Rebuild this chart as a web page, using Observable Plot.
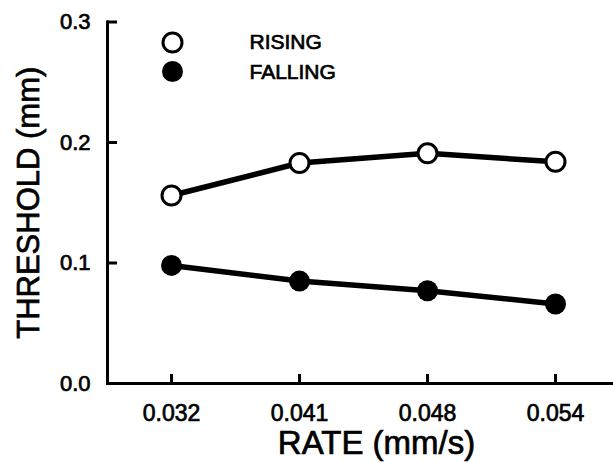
<!DOCTYPE html>
<html>
<head>
<meta charset="utf-8">
<script src="https://cdn.jsdelivr.net/npm/d3@7"></script>
<script src="https://cdn.jsdelivr.net/npm/@observablehq/plot@0.6"></script>
<style>
  html, body { margin: 0; padding: 0; background: white; }
  #chart svg text { stroke: black; stroke-width: 0.7px; paint-order: stroke; }
</style>
</head>
<body>
<div id="chart"></div>
<script>
const rates = ["0.032", "0.041", "0.048", "0.054"];
const rising = [0.156, 0.183, 0.191, 0.184];
const falling = [0.098, 0.085, 0.077, 0.066];
const yTicks = [0.0, 0.1, 0.2, 0.3];
const seriesNames = ["RISING", "FALLING"];
const xLabel = "RATE (mm/s)";
const yLabel = "THRESHOLD (mm)";

const risingData = rates.map((r, i) => ({rate: r, value: rising[i]}));
const fallingData = rates.map((r, i) => ({rate: r, value: falling[i]}));
const legendData = seriesNames.map((name, i) => ({name, i}));

const font = "'Liberation Sans', Arial, Helvetica, sans-serif";

const chart = Plot.plot({
  width: 613,
  height: 462,
  marginLeft: 107,
  marginRight: 0,
  marginTop: 21.5,
  marginBottom: 79,
  style: {fontFamily: font, color: "black", background: "white"},
  x: {type: "point", domain: rates, range: [171, 555], padding: 0},
  y: {domain: [0, 0.3]},
  marks: [
    Plot.frame({anchor: "left", stroke: "black", strokeWidth: 3}),
    Plot.ruleY([0], {stroke: "black", strokeWidth: 3}),
    Plot.axisY(yTicks, {tickSize: -10, text: null, strokeWidth: 3, label: null}),
    Plot.axisY(yTicks, {tickSize: 0, tickPadding: 17, tickFormat: d3.format(".1f"), fontSize: 22, label: null}),
    Plot.axisX(rates, {tickSize: -9, text: null, strokeWidth: 3, label: null}),
    Plot.axisX(rates, {tickSize: 0, tickPadding: 21, fontSize: 23, label: null}),
    Plot.text([xLabel], {frameAnchor: "bottom", lineAnchor: "middle", dx: 16, dy: 60, fontSize: 33, fill: "black"}),
    Plot.text([yLabel], {frameAnchor: "left", textAnchor: "middle", lineAnchor: "middle", rotate: -90, dx: -78, fontSize: 31, fill: "black"}),
    Plot.line(risingData, {x: "rate", y: "value", stroke: "black", strokeWidth: 5.5}),
    Plot.line(fallingData, {x: "rate", y: "value", stroke: "black", strokeWidth: 5.5}),
    Plot.dot(risingData, {x: "rate", y: "value", r: 9.5, fill: "white", stroke: "black", strokeWidth: 3}),
    Plot.dot(fallingData, {x: "rate", y: "value", r: 10.5, fill: "black", stroke: "none"}),
    Plot.dot(legendData.slice(0, 1), {frameAnchor: "top-left", dx: 65, dy: 20.5, r: 9.5, fill: "white", stroke: "black", strokeWidth: 3}),
    Plot.dot(legendData.slice(1, 2), {frameAnchor: "top-left", dx: 65, dy: 49.5, r: 10.5, fill: "black", stroke: "none"}),
    Plot.text(legendData.slice(0, 1), {text: "name", frameAnchor: "top-left", textAnchor: "start", lineAnchor: "middle", dx: 142, dy: 20.5, fontSize: 21, fill: "black"}),
    Plot.text(legendData.slice(1, 2), {text: "name", frameAnchor: "top-left", textAnchor: "start", lineAnchor: "middle", dx: 142, dy: 50.5, fontSize: 21, fill: "black"})
  ]
});
document.getElementById("chart").appendChild(chart);
</script>
</body>
</html>
